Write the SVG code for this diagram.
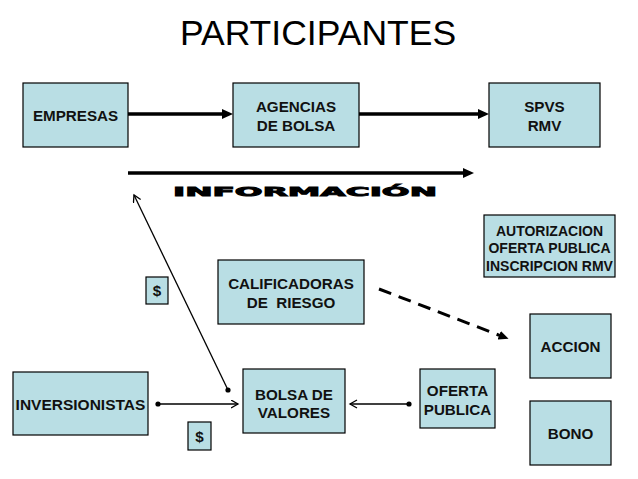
<svg xmlns="http://www.w3.org/2000/svg" width="638" height="479" viewBox="0 0 638 479">
<defs>
<style>
.box{fill:#B9DEE4;stroke:#000;stroke-width:1.2}
.t{font-family:"Liberation Sans",Arial,sans-serif;font-weight:bold;font-size:15.2px;fill:#111;text-anchor:middle}
.ts{font-size:14px}
.thick{stroke:#000;stroke-width:3.5;fill:none}
.thin{stroke:#000;stroke-width:1.3;fill:none}
</style>
<marker id="ah" markerUnits="userSpaceOnUse" markerWidth="12" markerHeight="10" refX="3" refY="5" orient="auto">
<path d="M0,0 L11,5 L0,10 z" fill="#000"/>
</marker>
<marker id="ahs" markerUnits="userSpaceOnUse" markerWidth="11" markerHeight="9" refX="3" refY="4.5" orient="auto">
<path d="M0,0 L10,4.5 L0,9 z" fill="#000"/>
</marker>
<marker id="open" markerUnits="userSpaceOnUse" markerWidth="10" markerHeight="10" refX="7.5" refY="4.5" orient="auto">
<path d="M0.5,0.5 L7.5,4.5 L0.5,8.5" fill="none" stroke="#000" stroke-width="1.3"/>
</marker>
<marker id="dot" markerUnits="userSpaceOnUse" markerWidth="7" markerHeight="7" refX="3.5" refY="3.5">
<circle cx="3.5" cy="3.5" r="2.6" fill="#000"/>
</marker>
</defs>
<rect width="638" height="479" fill="#fff"/>
<text x="318" y="45" style="font-family:'Liberation Sans',Arial,sans-serif;font-size:35.5px;fill:#000;text-anchor:middle">PARTICIPANTES</text>

<g id="connectors">
<line class="thick" x1="128" y1="114" x2="225" y2="114" marker-end="url(#ah)"/>
<line class="thick" x1="359" y1="114" x2="481" y2="114" marker-end="url(#ah)"/>
<line class="thick" x1="128" y1="173" x2="466" y2="173" stroke-width="3" marker-end="url(#ah)"/>
<line x1="379" y1="289" x2="502" y2="336.3" stroke="#000" stroke-width="3" stroke-dasharray="13 8" marker-end="url(#ahs)"/>
<line class="thin" x1="228" y1="390" x2="134" y2="195" marker-start="url(#dot)" marker-end="url(#open)"/>
<line class="thin" x1="158" y1="404" x2="238" y2="404" marker-start="url(#dot)" marker-end="url(#open)"/>
<line class="thin" x1="409" y1="404" x2="350" y2="404" marker-start="url(#dot)" marker-end="url(#open)"/>
</g>

<text x="173" y="196" textLength="264" lengthAdjust="spacingAndGlyphs" style="font-family:'DejaVu Sans',sans-serif;font-weight:bold;font-size:13px;fill:#000;stroke:#000;stroke-width:0.9">INFORMACIÓN</text>

<g id="empresas"><rect class="box" x="23" y="83" width="105" height="64"/><text class="t" x="75.5" y="121">EMPRESAS</text></g>
<g id="agencias"><rect class="box" x="233" y="83" width="126" height="64"/><text class="t" x="296" y="112">AGENCIAS</text><text class="t" x="296" y="131">DE BOLSA</text></g>
<g id="spvs"><rect class="box" x="489" y="83" width="111" height="64"/><text class="t" x="544.5" y="112">SPVS</text><text class="t" x="544.5" y="131">RMV</text></g>
<g id="autorizacion"><rect class="box" x="484" y="215" width="131" height="62"/><text class="t ts" x="549.5" y="236">AUTORIZACION</text><text class="t ts" x="549.5" y="253">OFERTA PUBLICA</text><text class="t ts" x="549.5" y="270.5">INSCRIPCION RMV</text></g>
<g id="calificadoras"><rect class="box" x="218" y="260" width="146" height="64"/><text class="t" x="291" y="289">CALIFICADORAS</text><text class="t" x="291" y="308" xml:space="preserve">DE  RIESGO</text></g>
<g id="dolar1"><rect class="box" x="146" y="277" width="22" height="27"/><text class="t" x="157" y="296">$</text></g>
<g id="accion"><rect class="box" x="530" y="314" width="81" height="64"/><text class="t" x="570.5" y="352">ACCION</text></g>
<g id="bono"><rect class="box" x="530" y="401" width="81" height="64"/><text class="t" x="570.5" y="439">BONO</text></g>
<g id="inversionistas"><rect class="box" x="13" y="372" width="135" height="63"/><text class="t" x="80.5" y="409.5" style="font-size:15.5px">INVERSIONISTAS</text></g>
<g id="bolsa"><rect class="box" x="243" y="369" width="102" height="64"/><text class="t" x="294" y="399.5">BOLSA DE</text><text class="t" x="294" y="418">VALORES</text></g>
<g id="oferta"><rect class="box" x="420" y="369" width="75" height="59"/><text class="t" x="457.5" y="396">OFERTA</text><text class="t" x="457.5" y="414.5">PUBLICA</text></g>
<g id="dolar2"><rect class="box" x="188" y="422" width="23" height="28"/><text class="t" x="199.5" y="441.5">$</text></g>
</svg>
